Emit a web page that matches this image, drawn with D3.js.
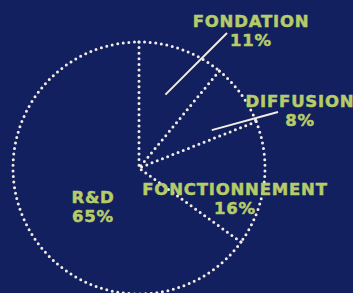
<!DOCTYPE html>
<html>
<head>
<meta charset="utf-8">
<script src="https://cdn.jsdelivr.net/npm/d3@7"></script>
<style>
  html, body { margin: 0; padding: 0; background: #132060; }
  svg { display: block; }
</style>
</head>
<body>
<div id="chart"></div>
<script>
// chart data
const categories = ["FONDATION", "DIFFUSION", "FONCTIONNEMENT", "R&D"];
const shares = [11, 8, 16, 65];

const width = 353, height = 293;
const cx = 139, cy = 168, radius = 126;

const svg = d3.select("#chart").append("svg")
  .attr("width", width)
  .attr("height", height);

svg.append("rect")
  .attr("width", width)
  .attr("height", height)
  .attr("fill", "#132060");

const pie = d3.pie().sort(null).value(d => d.value);
const arcs = pie(categories.map((c, i) => ({ name: c, value: shares[i] })));

const g = svg.append("g").attr("transform", `translate(${cx},${cy})`);

const dotted = sel => sel
  .attr("fill", "none")
  .attr("stroke", "#f3ece4")
  .attr("stroke-width", 3)
  .attr("stroke-linecap", "round")
  .attr("stroke-dasharray", "0 5.6");

// outer arc of each slice
g.selectAll("path.rim")
  .data(arcs)
  .join("path")
  .attr("class", "rim")
  .attr("d", d => {
    const p = d3.path();
    p.arc(0, 0, radius, d.startAngle - Math.PI / 2, d.endAngle - Math.PI / 2);
    return p.toString();
  })
  .call(dotted);

// radial edge at the start of each slice
g.selectAll("line.edge")
  .data(arcs)
  .join("line")
  .attr("class", "edge")
  .attr("x1", d => radius * Math.sin(d.startAngle))
  .attr("y1", d => -radius * Math.cos(d.startAngle))
  .attr("x2", 0)
  .attr("y2", 0)
  .call(dotted);

// label placement (layout only)
const labelPos = {
  "FONDATION": { x: 251, y: 27 },
  "DIFFUSION": { x: 300, y: 107 },
  "FONCTIONNEMENT": { x: 235, y: 195 },
  "R&D": { x: 93, y: 203 }
};
const leaders = {
  "FONDATION": { r: 78, end: [227, 33] },
  "DIFFUSION": { r: 82, end: [278, 112], angle: 62.5 }
};

const mid = d => (d.startAngle + d.endAngle) / 2;

arcs.forEach(d => {
  const L = leaders[d.data.name];
  if (!L) return;
  const a = L.angle !== undefined ? L.angle * Math.PI / 180 : mid(d);
  svg.append("line")
    .attr("x1", cx + L.r * Math.sin(a))
    .attr("y1", cy - L.r * Math.cos(a))
    .attr("x2", L.end[0])
    .attr("y2", L.end[1])
    .attr("stroke", "#f3ece4")
    .attr("stroke-width", 2);
});

const labels = svg.selectAll("text.lbl")
  .data(arcs)
  .join("text")
  .attr("class", "lbl")
  .attr("text-anchor", "middle")
  .attr("font-family", "'DejaVu Sans', sans-serif")
  .attr("font-weight", "bold")
  .attr("font-size", 16.5)
  .attr("letter-spacing", 0.8)
  .attr("fill", "#b6cc68")
  .attr("stroke", "#b6cc68")
  .attr("stroke-width", 0.5);

labels.append("tspan")
  .attr("x", d => labelPos[d.data.name].x)
  .attr("y", d => labelPos[d.data.name].y)
  .text(d => d.data.name);

labels.append("tspan")
  .attr("x", d => labelPos[d.data.name].x)
  .attr("y", d => labelPos[d.data.name].y + 18.5)
  .text(d => d.data.value + "%");
</script>
</body>
</html>
